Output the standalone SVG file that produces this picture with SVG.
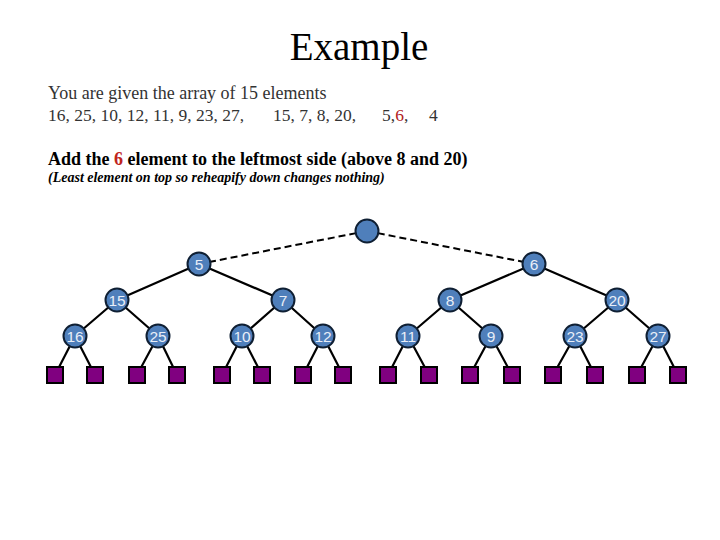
<svg xmlns="http://www.w3.org/2000/svg" width="720" height="540" viewBox="0 0 720 540">
<style>
.t{font-family:"Liberation Serif","Times New Roman",serif;fill:#333}
.n circle{fill:#4f7fbb;stroke:#0f1f33;stroke-width:2}
.n text{font-family:"Liberation Sans",Arial,sans-serif;font-size:15.5px;fill:#e8eef8;text-anchor:middle}
.leaf{fill:#800080;stroke:#000;stroke-width:2}
.e{stroke:#000;stroke-width:2.2;fill:none}
.d{stroke:#000;stroke-width:2;fill:none;stroke-dasharray:7,4}
</style>
<rect width="720" height="540" fill="#fff"/>
<text class="t" x="359" y="60" font-size="39" text-anchor="middle" style="fill:#000">Example</text>
<text class="t" x="48" y="99" font-size="18">You are given the array of 15 elements</text>
<text class="t" x="48" y="121" font-size="17.5">16, 25, 10, 12, 11, 9, 23, 27,</text>
<text class="t" x="273" y="121" font-size="17.5">15, 7, 8, 20,</text>
<text class="t" x="382" y="121" font-size="17.5">5,<tspan style="fill:#b22222">6</tspan>,</text>
<text class="t" x="429" y="121" font-size="17.5">4</text>
<text class="t" x="48" y="165" font-size="18" font-weight="bold" style="fill:#000">Add the <tspan style="fill:#c0241c">6</tspan> element to the leftmost side (above 8 and 20)</text>
<text class="t" x="48" y="182" font-size="14" font-weight="bold" font-style="italic" style="fill:#000">(Least element on top so reheapify down changes nothing)</text>
<g id="connectors">
<path class="d" d="M367 231 L199 264"/>
<path class="d" d="M367 231 L534 264"/>
<path class="e" d="M199 264 L117 300 M199 264 L283 300 M534 264 L450 300 M534 264 L617 300"/>
<path class="e" d="M117 300 L75 336 M117 300 L158 336 M283 300 L242 336 M283 300 L323 336 M450 300 L408 336 M450 300 L491 336 M617 300 L575 336 M617 300 L658 336"/>
<path class="e" d="M75 336 L55 375 M75 336 L95 375 M158 336 L137 375 M158 336 L177 375 M242 336 L222 375 M242 336 L262 375 M323 336 L303 375 M323 336 L343 375 M408 336 L388 375 M408 336 L429 375 M491 336 L470 375 M491 336 L512 375 M575 336 L553 375 M575 336 L595 375 M658 336 L637 375 M658 336 L678 375"/>
</g>
<g id="root" class="n"><circle cx="367" cy="231" r="11.5"/></g>
<g id="n5" class="n"><circle cx="199" cy="264" r="11.5"/><text x="199" y="270">5</text></g>
<g id="n6" class="n"><circle cx="534" cy="264" r="11.5"/><text x="534" y="270">6</text></g>
<g id="n15" class="n"><circle cx="117" cy="300" r="11.5"/><text x="117" y="306">15</text></g>
<g id="n7" class="n"><circle cx="283" cy="300" r="11.5"/><text x="283" y="306">7</text></g>
<g id="n8" class="n"><circle cx="450" cy="300" r="11.5"/><text x="450" y="306">8</text></g>
<g id="n20" class="n"><circle cx="617" cy="300" r="11.5"/><text x="617" y="306">20</text></g>
<g id="n16" class="n"><circle cx="75" cy="336" r="11.5"/><text x="75" y="342">16</text></g>
<g id="n25" class="n"><circle cx="158" cy="336" r="11.5"/><text x="158" y="342">25</text></g>
<g id="n10" class="n"><circle cx="242" cy="336" r="11.5"/><text x="242" y="342">10</text></g>
<g id="n12" class="n"><circle cx="323" cy="336" r="11.5"/><text x="323" y="342">12</text></g>
<g id="n11" class="n"><circle cx="408" cy="336" r="11.5"/><text x="408" y="342">11</text></g>
<g id="n9" class="n"><circle cx="491" cy="336" r="11.5"/><text x="491" y="342">9</text></g>
<g id="n23" class="n"><circle cx="575" cy="336" r="11.5"/><text x="575" y="342">23</text></g>
<g id="n27" class="n"><circle cx="658" cy="336" r="11.5"/><text x="658" y="342">27</text></g>
<g id="leaves">
<rect class="leaf" x="47" y="367" width="16" height="16"/>
<rect class="leaf" x="87" y="367" width="16" height="16"/>
<rect class="leaf" x="129" y="367" width="16" height="16"/>
<rect class="leaf" x="169" y="367" width="16" height="16"/>
<rect class="leaf" x="214" y="367" width="16" height="16"/>
<rect class="leaf" x="254" y="367" width="16" height="16"/>
<rect class="leaf" x="295" y="367" width="16" height="16"/>
<rect class="leaf" x="335" y="367" width="16" height="16"/>
<rect class="leaf" x="380" y="367" width="16" height="16"/>
<rect class="leaf" x="421" y="367" width="16" height="16"/>
<rect class="leaf" x="462" y="367" width="16" height="16"/>
<rect class="leaf" x="504" y="367" width="16" height="16"/>
<rect class="leaf" x="545" y="367" width="16" height="16"/>
<rect class="leaf" x="587" y="367" width="16" height="16"/>
<rect class="leaf" x="629" y="367" width="16" height="16"/>
<rect class="leaf" x="670" y="367" width="16" height="16"/>
</g>
</svg>
